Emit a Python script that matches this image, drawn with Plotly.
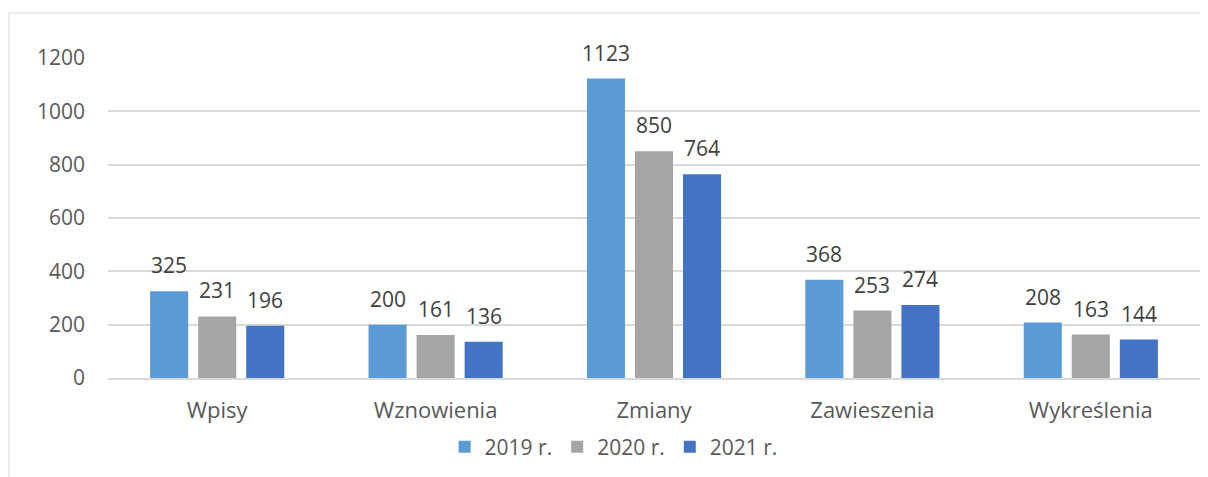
import plotly.graph_objects as go

kategorie = ["Wpisy", "Wznowienia", "Zmiany", "Zawieszenia", "Wykreślenia"]
lata = ["2019 r.", "2020 r.", "2021 r."]
wartosci_2019 = [325, 200, 1123, 368, 208]
wartosci_2020 = [231, 161, 850, 253, 163]
wartosci_2021 = [196, 136, 764, 274, 144]

kolory = ["#5B9BD5", "#A5A5A5", "#4472C4"]
serie = [wartosci_2019, wartosci_2020, wartosci_2021]
przesuniecia = [-48, 0, 48]

FONT = "Open Sans"

fig = go.Figure()
for rok, wartosci, kolor in zip(lata, serie, kolory):
    fig.add_trace(
        go.Bar(
            x=kategorie,
            y=wartosci,
            name=rok,
            marker={"color": kolor, "line": {"width": 0}},
        )
    )

# etykiety danych nad słupkami
for wartosci, dx in zip(serie, przesuniecia):
    for kat, w in zip(kategorie, wartosci):
        fig.add_annotation(
            x=kat,
            y=w,
            text=str(w),
            showarrow=False,
            xshift=dx,
            yshift=10,
            yanchor="bottom",
            font={"family": FONT, "size": 21, "color": "#404040"},
        )

# ramka wykresu
fig.add_shape(
    type="rect",
    xref="paper",
    yref="paper",
    x0=-0.0907,
    x1=1.02,
    y0=-0.4,
    y1=1.1406,
    line={"color": "#D9D9D9", "width": 1},
    fillcolor="rgba(0,0,0,0)",
    layer="below",
)

fig.update_layout(
    width=1200,
    height=469,
    margin={"l": 100, "r": 8, "t": 50, "b": 99},
    paper_bgcolor="white",
    plot_bgcolor="white",
    barmode="group",
    bargap=0.34,
    bargroupgap=0.208,
    font={"family": FONT, "size": 21, "color": "#595959"},
    showlegend=True,
    legend={
        "orientation": "h",
        "x": 0.463,
        "xanchor": "center",
        "y": -0.2156,
        "yanchor": "middle",
        "font": {"family": FONT, "size": 21, "color": "#595959"},
        "bgcolor": "rgba(0,0,0,0)",
    },
)
fig.update_xaxes(
    showgrid=False,
    showline=True,
    linecolor="#D9D9D9",
    linewidth=1.5,
    ticks="",
    ticklabelstandoff=12,
    tickfont={"family": FONT, "size": 22, "color": "#595959"},
)
fig.update_yaxes(
    range=[0, 1200],
    tickvals=[0, 200, 400, 600, 800, 1000, 1200],
    showgrid=True,
    gridcolor="#D9D9D9",
    gridwidth=1.5,
    zeroline=False,
    showline=False,
    ticklabelstandoff=22,
    tickfont={"family": FONT, "size": 21, "color": "#595959"},
)

fig.write_html("out.html")
